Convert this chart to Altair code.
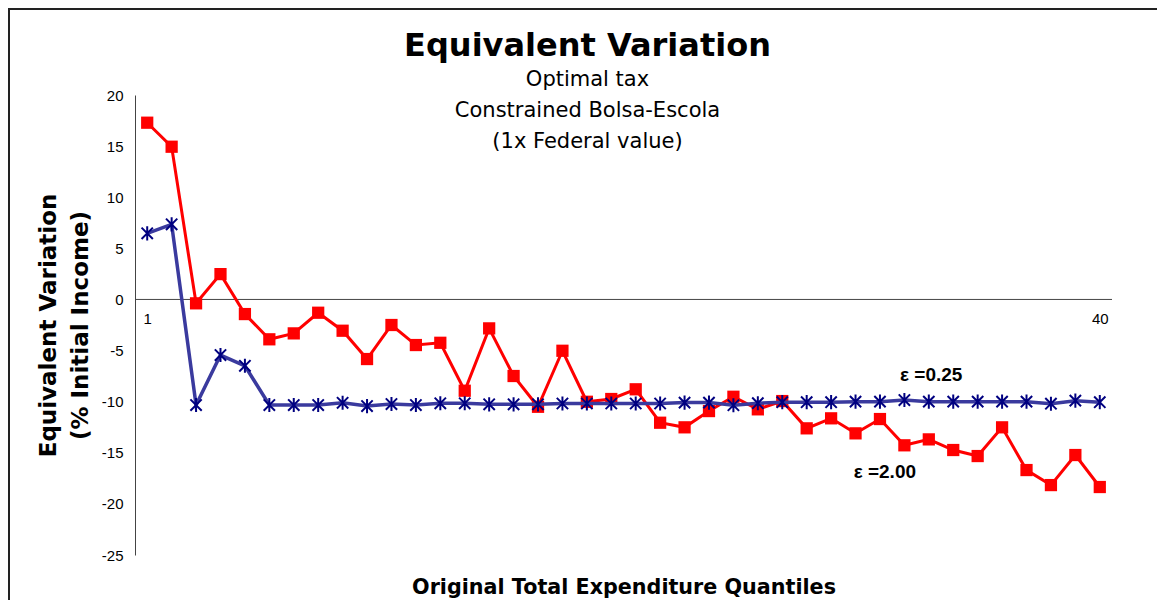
import altair as alt
import pandas as pd

# ---- data ----
quantiles = list(range(1, 41))

eps_200 = [17.29, 14.94, -0.38, 2.48, -1.43, -3.90, -3.32, -1.30, -3.06, -5.83,
           -2.50, -4.46, -4.24, -8.93, -2.83, -7.49, -10.50, -5.02, -10.01, -9.74,
           -8.79, -12.06, -12.51, -10.92, -9.52, -10.75, -9.94, -12.61, -11.63, -13.10,
           -11.70, -14.27, -13.69, -14.73, -15.32, -12.51, -16.69, -18.16, -15.22, -18.35]

eps_025 = [6.47, 7.35, -10.33, -5.44, -6.49, -10.33, -10.33, -10.33, -10.11, -10.43,
           -10.23, -10.33, -10.16, -10.16, -10.26, -10.26, -10.26, -10.18, -10.18, -10.18,
           -10.18, -10.18, -10.09, -10.09, -10.35, -10.15, -10.05, -10.05, -10.05, -10.0,
           -10.0, -9.84, -10.0, -10.0, -10.0, -10.0, -10.0, -10.2, -9.9, -10.05]

y_ticks = [-25, -20, -15, -10, -5, 0, 5, 10, 15, 20]
x_tick_labels = [1, 40]

ann_text = ["\u03b5 =0.25", "\u03b5 =2.00"]
ann_x = [33.1, 31.2]
ann_y = [-7.35, -16.85]

title_text = "Equivalent Variation"
subtitle_lines = ["Optimal tax", "Constrained Bolsa-Escola", "(1x Federal value)"]
y_title = ["Equivalent Variation", "(% Initial Income)"]
x_title = "Original Total Expenditure Quantiles"

# ---- layout ----
W, H = 977, 460
YMIN, YMAX = -25, 20
zero_from_bottom = H * (0 - YMIN) / (YMAX - YMIN)

df = pd.DataFrame({"q": quantiles, "e200": eps_200, "e025": eps_025})
ann = pd.DataFrame({"t": ann_text, "x": ann_x, "y": ann_y})
zero = pd.DataFrame({"y": [0]})

xscale = alt.Scale(domain=[0.5, 40.5], nice=False, zero=False)
yscale = alt.Scale(domain=[YMIN, YMAX], nice=False, zero=False)

xaxis = alt.Axis(values=x_tick_labels, domain=False, ticks=False, grid=False,
                 offset=-zero_from_bottom, labelPadding=12, labelFont="Liberation Sans",
                 labelFontSize=15, labelColor="black", labelAngle=0,
                 title=x_title, titleFont="DejaVu Sans", titleFontWeight="bold",
                 titleFontSize=20.7, titleColor="black", titleY=zero_from_bottom + 22,
                 titleBaseline="top")
yaxis = alt.Axis(values=y_ticks, domain=True, domainColor="#444444", domainWidth=1,
                 ticks=False, grid=False, labelPadding=12, labelFont="Liberation Sans",
                 labelFontSize=15, labelColor="black", labelExpr="'' + datum.value",
                 title=y_title, titleFont="DejaVu Sans", titleFontWeight="bold",
                 titleFontSize=23, titleColor="black", titleLineHeight=32, titlePadding=9)

base = alt.Chart(df)

frame = alt.Chart(pd.DataFrame({"k": [1]})).mark_rect(
    fillOpacity=0, stroke="#222222", strokeWidth=2
).encode(x=alt.value(-126), x2=alt.value(1300), y=alt.value(-86), y2=alt.value(700))

zero_rule = alt.Chart(zero).mark_rule(color="#444444", strokeWidth=1).encode(
    y=alt.Y("y:Q", scale=yscale, axis=yaxis))

red_line = base.mark_line(color="#FF0000", strokeWidth=3).encode(
    x=alt.X("q:Q", scale=xscale, axis=xaxis),
    y=alt.Y("e200:Q", scale=yscale, axis=yaxis))
red_pts = base.mark_point(shape="square", filled=True, color="#FF0000", size=150, opacity=1).encode(
    x=alt.X("q:Q", scale=xscale), y=alt.Y("e200:Q", scale=yscale))

blue_line = base.mark_line(color="#3A3A9E", strokeWidth=3.5).encode(
    x=alt.X("q:Q", scale=xscale), y=alt.Y("e025:Q", scale=yscale))
star = "M0,-1L0,1M-0.8,-0.8L0.8,0.8M-0.8,0.8L0.8,-0.8"
blue_pts = base.mark_point(shape=star, filled=False, stroke="#000080", strokeWidth=2,
                           size=200, opacity=1).encode(
    x=alt.X("q:Q", scale=xscale), y=alt.Y("e025:Q", scale=yscale))

labels = alt.Chart(ann).mark_text(font="Liberation Sans", fontWeight="bold", fontSize=19,
                                  color="black", align="center", baseline="middle").encode(
    x=alt.X("x:Q", scale=xscale), y=alt.Y("y:Q", scale=yscale), text="t:N")

chart = alt.layer(frame, zero_rule, red_line, red_pts, blue_line, blue_pts, labels).properties(
    width=W, height=H,
    title=alt.TitleParams(text=title_text, subtitle=subtitle_lines, font="DejaVu Sans",
                          fontWeight="bold", fontSize=32, color="black",
                          subtitleFont="DejaVu Sans", subtitleFontSize=21,
                          subtitleColor="black", subtitleLineHeight=31, subtitlePadding=6,
                          anchor="middle", frame="group", dx=-36, offset=-145),
    autosize=alt.AutoSizeParams(type="none"),
    padding={"left": 127, "top": 87, "right": 45, "bottom": 45},
).configure_view(stroke=None)

chart.save("out.html", embed_options={"renderer": "svg", "actions": False})
